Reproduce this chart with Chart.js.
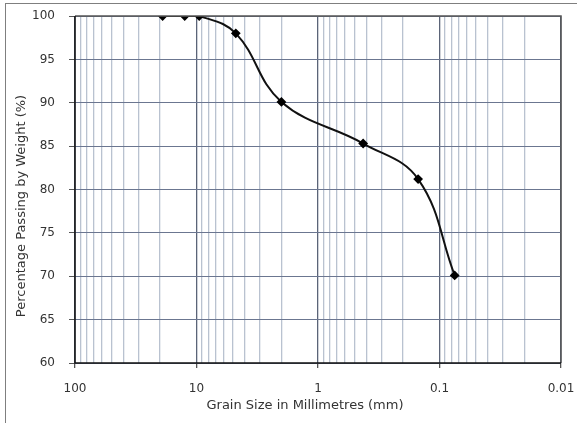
<!DOCTYPE html>
<html>
<head>
<meta charset="utf-8">
<script src="https://cdn.jsdelivr.net/npm/chart.js"></script>
<style>
  html, body { margin: 0; padding: 0; background: #fff; }
  #wrap { width: 577px; height: 423px; }
</style>
</head>
<body>
<div id="wrap"><canvas id="grainChart" width="577" height="423"></canvas></div>
<script>
// Datos de la curva granulométrica
const grainSizes = [19, 12.5, 9.5, 4.75, 2, 0.425, 0.15, 0.075];
const percentPassing = [100, 100, 100, 98, 90.1, 85.3, 81.2, 70.1];
const xTickLabels = [100, 10, 1, 0.1, 0.01];
const yTicks = [60, 65, 70, 75, 80, 85, 90, 95, 100];
const xTitle = 'Grain Size in Millimetres (mm)';
const yTitle = 'Percentage Passing by Weight (%)';

const isDecade = (v) => xTickLabels.some(t => Math.abs(t - v) / t < 1e-6);

// Marco gris exterior
const framePlugin = {
    id: 'frame',
    beforeDraw: (chart) => {
        const ctx = chart.ctx;
        ctx.save();
        ctx.strokeStyle = '#7f7f7f';
        ctx.lineWidth = 1;
        ctx.strokeRect(5.5, 3.5, 600, 440);
        ctx.restore();
    }
};

// Borde del área de trazado y títulos de los ejes
const borderPlugin = {
    id: 'plotBorder',
    afterDatasetsDraw: (chart) => {
        const { ctx, chartArea: a } = chart;
        ctx.save();
        ctx.lineWidth = 1.5;
        ctx.strokeStyle = '#555';
        ctx.beginPath();
        ctx.moveTo(a.left, a.top);
        ctx.lineTo(a.right, a.top);
        ctx.lineTo(a.right, a.bottom);
        ctx.stroke();
        ctx.strokeStyle = '#111';
        ctx.beginPath();
        ctx.moveTo(a.left, a.top);
        ctx.lineTo(a.left, a.bottom);
        ctx.lineTo(a.right, a.bottom);
        ctx.stroke();

        ctx.fillStyle = '#333';
        ctx.font = '13px "DejaVu Sans"';
        ctx.textAlign = 'center';
        ctx.textBaseline = 'middle';
        ctx.fillText(xTitle, 305, 406);
        ctx.translate(22, 206);
        ctx.rotate(-Math.PI / 2);
        ctx.fillText(yTitle, 0, 0);
        ctx.restore();
    }
};

new Chart(document.getElementById('grainChart').getContext('2d'), {
    type: 'line',
    data: {
        datasets: [{
            data: grainSizes.map((x, i) => ({ x: x, y: percentPassing[i] })),
            borderColor: '#111',
            borderWidth: 2,
            tension: 0.4,
            pointStyle: 'rectRot',
            pointRadius: 3.5,
            pointBackgroundColor: '#000',
            pointBorderColor: '#000',
            fill: false
        }]
    },
    options: {
        responsive: false,
        animation: false,
        layout: { padding: { top: 16, right: 16, left: 0, bottom: 0 } },
        plugins: {
            legend: { display: false },
            tooltip: { enabled: false }
        },
        scales: {
            x: {
                type: 'logarithmic',
                reverse: true,
                min: 0.01,
                max: 100,
                afterBuildTicks: (scale) => {
                    const ticks = [];
                    for (let e = -2; e <= 1; e++) {
                        for (let m = 1; m <= 9; m++) ticks.push({ value: m * Math.pow(10, e) });
                    }
                    ticks.push({ value: 100 });
                    scale.ticks = ticks;
                },
                afterFit: (scale) => { scale.height = 60; },
                grid: {
                    color: (c) => isDecade(c.tick.value) ? '#5b6478' : '#b9c2d0',
                    tickColor: (c) => isDecade(c.tick.value) ? '#555' : 'rgba(0,0,0,0)',
                    lineWidth: 1.3,
                    tickLength: 5
                },
                border: { display: false },
                ticks: {
                    autoSkip: false,
                    maxRotation: 0,
                    padding: 14,
                    color: '#333',
                    font: { family: 'DejaVu Sans', size: 12 },
                    callback: (v) => isDecade(v) ? String(xTickLabels.find(t => Math.abs(t - v) / t < 1e-6)) : ''
                }
            },
            y: {
                min: 60,
                max: 100,
                afterBuildTicks: (scale) => { scale.ticks = yTicks.map(v => ({ value: v })); },
                afterFit: (scale) => {
                    scale.width = 75;
                    scale.paddingTop = 8;
                    scale.paddingBottom = 8;
                },
                grid: {
                    color: '#6b7690',
                    tickColor: '#555',
                    lineWidth: 1,
                    tickLength: 6
                },
                border: { display: false },
                ticks: {
                    padding: 14,
                    color: '#333',
                    font: { family: 'DejaVu Sans', size: 12 }
                }
            }
        }
    },
    plugins: [framePlugin, borderPlugin]
});
</script>
</body>
</html>
